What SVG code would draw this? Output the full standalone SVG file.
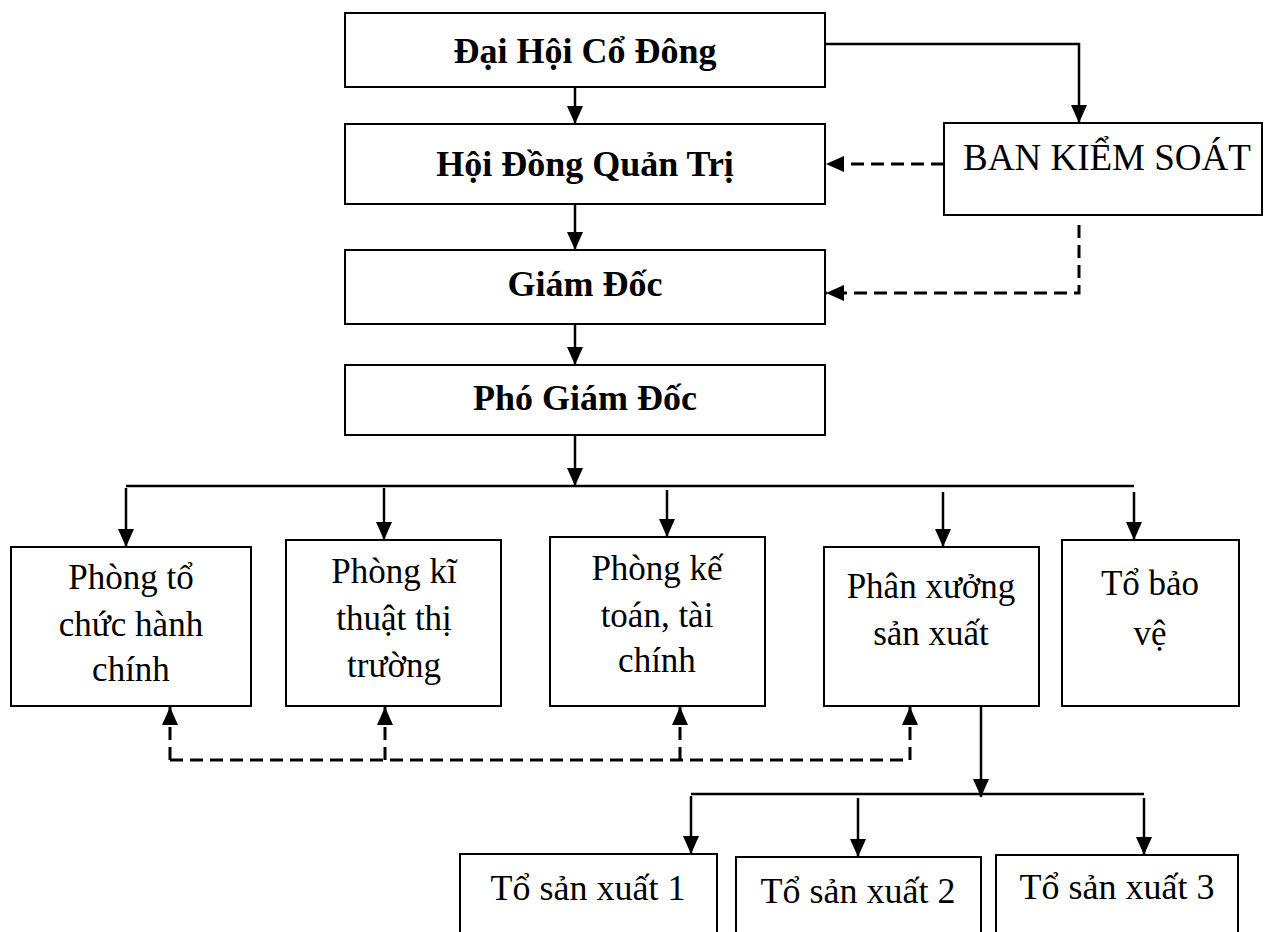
<svg xmlns="http://www.w3.org/2000/svg" width="1266" height="932" viewBox="0 0 1266 932">
<style>
.box{fill:#fff;stroke:#000;stroke-width:2}
.t{font-family:"Liberation Serif","Times New Roman",serif;font-size:35px;text-anchor:middle;fill:#000}
.b{font-family:"Liberation Serif","Times New Roman",serif;font-size:36px;font-weight:bold;text-anchor:middle;fill:#000}
.s{font-family:"Liberation Serif","Times New Roman",serif;font-size:36px;text-anchor:middle;fill:#000}
.ln{fill:none;stroke:#000;stroke-width:2.5}
.ar{fill:none;stroke:#000;stroke-width:2.5;marker-end:url(#ah)}
.da{fill:none;stroke:#000;stroke-width:3;stroke-dasharray:13 7;marker-end:url(#ah)}
.dl{fill:none;stroke:#000;stroke-width:3;stroke-dasharray:13 7}
</style>
<defs>
<marker id="ah" markerUnits="userSpaceOnUse" markerWidth="18" markerHeight="18" viewBox="0 0 18 18" refX="18" refY="9" orient="auto">
<path d="M0,1 L18,9 L0,17 Z" fill="#000"/>
</marker>
</defs>
<rect width="1266" height="932" fill="#fff"/>
<g id="connectors">
<path class="ar" d="M575,87 L575,124"/>
<path class="ar" d="M575,204 L575,250"/>
<path class="ar" d="M575,324 L575,365"/>
<path class="ar" d="M825,44 L1079,44 L1079,123"/>
<path class="da" d="M944,164 L826,164"/>
<path class="da" d="M1079,225 L1079,293 L826,293"/>
<path class="ar" d="M575,435 L575,486"/>
<path class="ln" d="M126,486 L1134,486"/>
<path class="ar" d="M126,488 L126,547"/>
<path class="ar" d="M384,488 L384,540"/>
<path class="ar" d="M667,490 L667,537"/>
<path class="ar" d="M943,492 L943,547"/>
<path class="ar" d="M1134,492 L1134,540"/>
<path class="dl" d="M170,760 L910,760"/>
<path class="da" d="M170,760 L170,707"/>
<path class="da" d="M385,760 L385,707"/>
<path class="da" d="M680,760 L680,707"/>
<path class="da" d="M910,760 L910,707"/>
<path class="ar" d="M981,706 L981,797"/>
<path class="ln" d="M691,794 L1144,794"/>
<path class="ar" d="M691,796 L691,854"/>
<path class="ar" d="M858,798 L858,857"/>
<path class="ar" d="M1144,798 L1144,855"/>
</g>
<g id="dhcd"><rect class="box" x="345" y="13" width="480" height="74"/><text class="b" x="585" y="63">Đại Hội Cổ Đông</text></g>
<g id="hdqt"><rect class="box" x="345" y="124" width="480" height="80"/><text class="b" x="585" y="176">Hội Đồng Quản Trị</text></g>
<g id="bks"><rect class="box" x="944" y="123" width="318" height="92"/><text class="t" x="1107" y="170" style="font-size:37px">BAN KIỂM SOÁT</text></g>
<g id="gd"><rect class="box" x="345" y="250" width="480" height="74"/><text class="b" x="585" y="296">Giám Đốc</text></g>
<g id="pgd"><rect class="box" x="345" y="365" width="480" height="70"/><text class="b" x="585" y="410">Phó Giám Đốc</text></g>
<g id="p1"><rect class="box" x="11" y="547" width="240" height="159"/><text class="t" x="131" y="589">Phòng tổ</text><text class="t" x="131" y="636">chức hành</text><text class="t" x="131" y="681">chính</text></g>
<g id="p2"><rect class="box" x="286" y="540" width="215" height="166"/><text class="t" x="394" y="583">Phòng kĩ</text><text class="t" x="394" y="630">thuật thị</text><text class="t" x="394" y="677">trường</text></g>
<g id="p3"><rect class="box" x="550" y="537" width="215" height="169"/><text class="t" x="657" y="580">Phòng kế</text><text class="t" x="657" y="627">toán, tài</text><text class="t" x="657" y="672">chính</text></g>
<g id="p4"><rect class="box" x="824" y="547" width="215" height="159"/><text class="t" x="931" y="598">Phân xưởng</text><text class="t" x="931" y="645">sản xuất</text></g>
<g id="p5"><rect class="box" x="1062" y="540" width="177" height="166"/><text class="t" x="1150" y="595">Tổ bảo</text><text class="t" x="1150" y="645">vệ</text></g>
<g id="sx1"><rect class="box" x="460" y="854" width="257" height="100"/><text class="s" x="588" y="900">Tổ sản xuất 1</text></g>
<g id="sx2"><rect class="box" x="736" y="857" width="245" height="100"/><text class="s" x="858" y="903">Tổ sản xuất 2</text></g>
<g id="sx3"><rect class="box" x="996" y="855" width="242" height="100"/><text class="s" x="1117" y="899">Tổ sản xuất 3</text></g>
</svg>
